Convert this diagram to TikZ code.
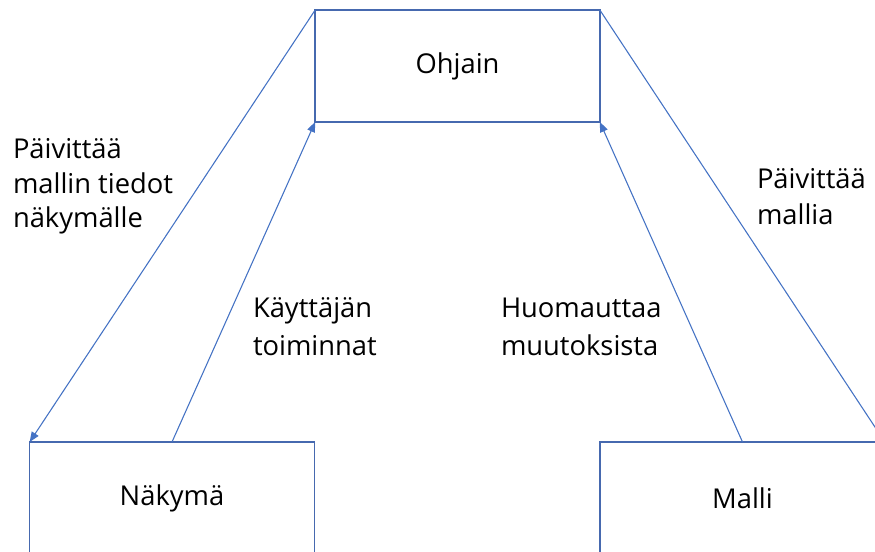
\documentclass[tikz,border=0pt]{standalone}
\usepackage{fontspec}
\setmainfont{Open Sans}
\usetikzlibrary{arrows.meta}
\definecolor{linkblue}{RGB}{68,114,196}
\definecolor{boxblue}{RGB}{70,105,175}
\tikzset{
  box/.style={draw=boxblue, line width=1.1pt, rectangle, inner sep=0pt, outer sep=0pt,
              minimum width=213.5pt, minimum height=84pt, font=\fontsize{20.5}{24}\selectfont},
  conn/.style={draw=linkblue, line width=0.8pt, -{Triangle[length=7.5pt,width=6pt]}},
  lbl/.style={anchor=base west, inner sep=0pt, outer sep=0pt, font=\fontsize{20.5}{24}\selectfont}
}
\begin{document}
\begin{tikzpicture}[x=0.75pt, y=-0.75pt]
\useasboundingbox (0,0) rectangle (875,552);
\clip (0,0) rectangle (875,552);
\fill[white] (0,0) rectangle (875,552);
% boxes
\node[box] (ohjain) at (457.5,66) {Ohjain};
\node[box] (nakyma) at (172,498) {Näkymä};
\node[box] (malli) at (742.5,498) {Malli};
% connectors
\draw[conn] (ohjain.north west) -- (nakyma.north west);
\draw[conn] (nakyma.north) -- (ohjain.south west);
\draw[conn] (malli.north) -- (ohjain.south east);
\draw[conn] (ohjain.north east) -- (malli.north east);
% labels
\node[lbl] (l1a) at (13,159) {Päivittää};
\node[lbl] (l1b) at (13,194) {mallin tiedot};
\node[lbl] (l1c) at (13,228) {näkymälle};
\node[lbl] (l2a) at (253,318) {Käyttäjän};
\node[lbl] (l2b) at (253,356) {toiminnat};
\node[lbl] (l3a) at (501,318) {Huomauttaa};
\node[lbl] (l3b) at (501,356) {muutoksista};
\node[lbl] (l4a) at (757,189) {Päivittää};
\node[lbl] (l4b) at (757,225) {mallia};
\end{tikzpicture}
\end{document}
